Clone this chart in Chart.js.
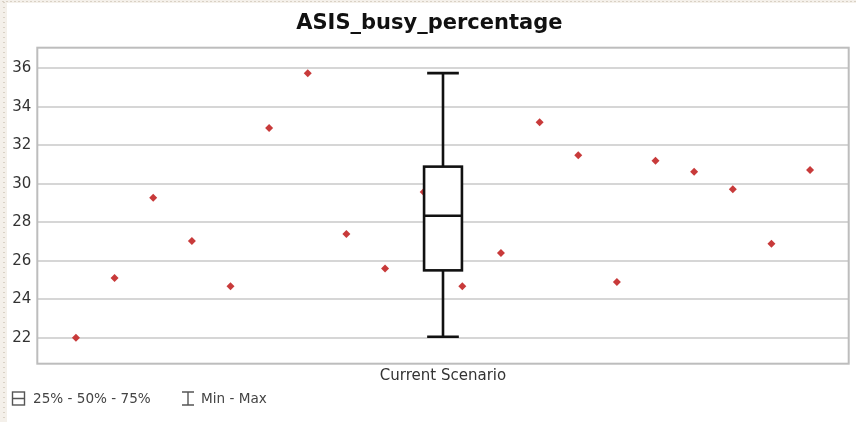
<!DOCTYPE html>
<html>
<head>
<meta charset="utf-8">
<title>ASIS_busy_percentage</title>
<script src="https://cdn.jsdelivr.net/npm/chart.js@4"></script>
<style>
    html, body { margin: 0; padding: 0; background: #ffffff; }
    #wrap { width: 856px; height: 422px; }
</style>
</head>
<body>
<div id="wrap"><canvas id="boxChart" width="856" height="422"></canvas></div>
<script>
// datos
const chartTitle = "ASIS_busy_percentage";
const categories = ["Current Scenario"];
const replicationValues = [
    22.0, 25.1, 29.27, 27.02, 24.68, 32.9, 35.74, 27.39, 25.6, 29.57,
    24.68, 26.4, 33.19, 31.48, 24.89, 31.2, 30.63, 29.71, 26.88, 30.71
];
// min, q1, mediana, q3, max
const boxStats = [22.05, 25.5, 28.34, 30.89, 35.75];
const yTicks = [22, 24, 26, 28, 30, 32, 34, 36];
const legendLabels = ["25% - 50% - 75%", "Min - Max"];

const FONT = "'DejaVu Sans', Verdana, sans-serif";

let chart = null;

// caja y bigotes dibujados con las escalas del grafico
const boxPlugin = {
    id: "boxPlugin",
    beforeDraw: function (chart) {
        let ctx = chart.ctx;
        ctx.save();
        // borde punteado beige a la izquierda y arriba
        ctx.fillStyle = "#f4f0ea";
        ctx.fillRect(0, 0, 7, chart.height);
        ctx.fillRect(0, 0, chart.width, 3);
        ctx.fillStyle = "#d9d1c5";
        for (let y = 2; y < chart.height; y += 5) {
            ctx.fillRect(3, y, 2, 1);
        }
        for (let x = 2; x < chart.width; x += 4) {
            ctx.fillRect(x, 1, 2, 1);
        }
        ctx.restore();
    },
    beforeDatasetsDraw: function (chart) {
        let ctx = chart.ctx;
        let a = chart.chartArea;
        ctx.save();
        ctx.strokeStyle = "#bdbdbd";
        ctx.lineWidth = 2;
        ctx.strokeRect(a.left, a.top, a.right - a.left, a.bottom - a.top);
        ctx.restore();
    },
    afterDatasetsDraw: function (chart) {
        let ctx = chart.ctx;
        let xs = chart.scales.x;
        let ys = chart.scales.y;
        let center = (xs.min + xs.max) / 2;
        let cx = xs.getPixelForValue(center);
        let half = xs.getPixelForValue(center + 0.49) - cx;
        let cap = xs.getPixelForValue(center + 0.41) - cx;

        let yMin = ys.getPixelForValue(boxStats[0]);
        let yQ1 = ys.getPixelForValue(boxStats[1]);
        let yMed = ys.getPixelForValue(boxStats[2]);
        let yQ3 = ys.getPixelForValue(boxStats[3]);
        let yMax = ys.getPixelForValue(boxStats[4]);

        ctx.save();
        ctx.strokeStyle = "#111111";
        ctx.lineWidth = 2.6;

        ctx.beginPath();
        ctx.moveTo(cx, yMax); ctx.lineTo(cx, yQ3);
        ctx.moveTo(cx, yQ1); ctx.lineTo(cx, yMin);
        ctx.moveTo(cx - cap, yMax); ctx.lineTo(cx + cap, yMax);
        ctx.moveTo(cx - cap, yMin); ctx.lineTo(cx + cap, yMin);
        ctx.stroke();

        ctx.fillStyle = "#ffffff";
        ctx.fillRect(cx - half, yQ3, half * 2, yQ1 - yQ3);
        ctx.strokeRect(cx - half, yQ3, half * 2, yQ1 - yQ3);

        ctx.beginPath();
        ctx.moveTo(cx - half, yMed); ctx.lineTo(cx + half, yMed);
        ctx.stroke();
        ctx.restore();
    },
    afterDraw: function (chart) {
        // leyenda inferior
        let ctx = chart.ctx;
        ctx.save();
        ctx.strokeStyle = "#555555";
        ctx.lineWidth = 1.4;
        // icono caja
        ctx.strokeRect(12.5, 392, 12, 13);
        ctx.beginPath();
        ctx.moveTo(12.5, 398.5); ctx.lineTo(24.5, 398.5);
        // icono min-max
        ctx.moveTo(182, 392); ctx.lineTo(194, 392);
        ctx.moveTo(188, 392); ctx.lineTo(188, 405);
        ctx.moveTo(182, 405); ctx.lineTo(194, 405);
        ctx.stroke();

        ctx.fillStyle = "#444444";
        ctx.font = "13.6px " + FONT;
        ctx.textBaseline = "middle";
        ctx.textAlign = "left";
        ctx.fillText(legendLabels[0], 33, 399);
        ctx.fillText(legendLabels[1], 201, 399);
        ctx.restore();
    }
};

function cargarGrafica() {
    let puntos = [];
    for (let i = 0; i < replicationValues.length; i++) {
        puntos.push({ x: i + 1, y: replicationValues[i] });
    }

    let ctx = document.getElementById("boxChart").getContext("2d");

    if (chart !== null) {
        chart.destroy();
    }

    chart = new Chart(ctx, {
        type: "scatter",
        data: {
            datasets: [{
                label: "replicas",
                data: puntos,
                pointStyle: "rectRot",
                pointRadius: 4,
                pointBorderWidth: 0,
                backgroundColor: "#c83a3a",
                borderColor: "#c83a3a"
            }]
        },
        options: {
            responsive: false,
            animation: false,
            layout: {
                padding: { left: 10, right: 7.3, top: 0, bottom: 0 }
            },
            scales: {
                x: {
                    type: "linear",
                    min: 0,
                    max: replicationValues.length + 1,
                    grid: { display: false, drawTicks: false },
                    border: { display: false },
                    afterBuildTicks: function (scale) {
                        scale.ticks = [{ value: (scale.min + scale.max) / 2 }];
                    },
                    afterFit: function (scale) {
                        scale.height = 58.3;
                    },
                    ticks: {
                        padding: 3,
                        maxRotation: 0,
                        autoSkip: false,
                        color: "#333333",
                        font: { family: FONT, size: 15 },
                        callback: function () {
                            return categories[0];
                        }
                    }
                },
                y: {
                    min: 20.65,
                    max: 37.07,
                    grid: { color: "#d6d6d6", lineWidth: 2, drawTicks: false },
                    border: { display: false },
                    afterBuildTicks: function (scale) {
                        scale.ticks = yTicks.map(v => ({ value: v }));
                    },
                    afterFit: function (scale) {
                        scale.width = 27.3;
                    },
                    ticks: {
                        padding: 6,
                        color: "#333333",
                        font: { family: FONT, size: 15 }
                    }
                }
            },
            plugins: {
                legend: { display: false },
                tooltip: { enabled: false },
                title: {
                    display: true,
                    text: chartTitle,
                    color: "#111111",
                    font: { family: FONT, size: 21, weight: "bold" },
                    padding: { top: 11.4, bottom: 11.1 }
                }
            }
        },
        plugins: [boxPlugin]
    });
}

cargarGrafica();
</script>
</body>
</html>
